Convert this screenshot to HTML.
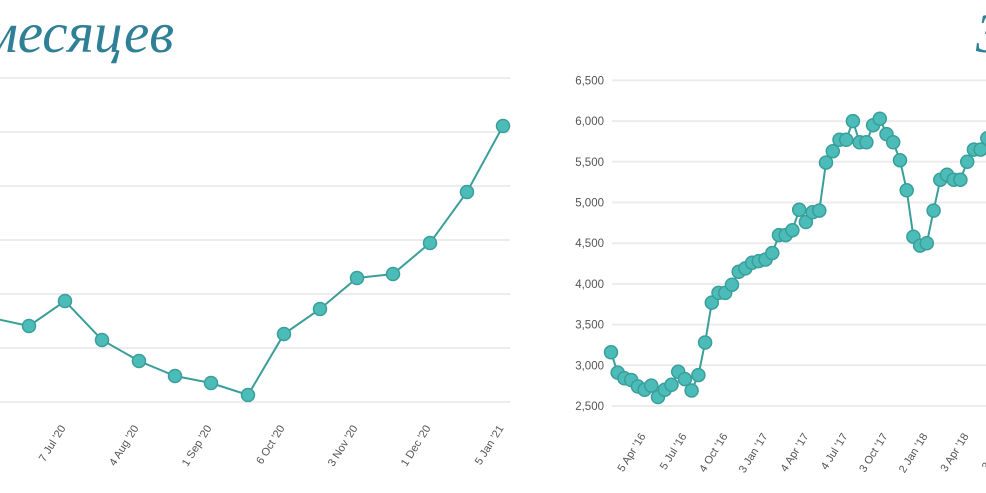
<!DOCTYPE html>
<html><head><meta charset="utf-8"><style>
html,body{margin:0;padding:0;background:#fff;width:986px;height:493px;overflow:hidden}
svg{display:block}
</style></head><body>
<svg id="s" width="986" height="493" xmlns="http://www.w3.org/2000/svg" font-family="Liberation Sans, sans-serif">
<text x="174" y="52" text-anchor="end" font-family="Liberation Serif, serif" font-style="italic" font-size="57" fill="#2f8096">месяцев</text>
<text x="976" y="52" font-family="Liberation Serif, serif" font-style="italic" font-size="56" fill="#2f8096">3</text>
<g id="g"></g>
</svg>
<script>
var g=document.getElementById('g'),h='';
[78,132,186,240,294,348,402].forEach(function(y){h+='<line x1="0" x2="510" y1="'+y+'" y2="'+y+'" stroke="#ececec" stroke-width="2"/>';});
var L=[[-8,318],[29,326],[65,301],[102,340],[139,361],[175,376],[211,383],[248,395],[284,334],[320,309],[357,278],[393,274],[430,243],[467,192],[503,126]];
h+='<polyline fill="none" stroke="#3a9e9a" stroke-width="2" points="'+L.map(function(p){return p.join(',')}).join(' ')+'"/>';
L.forEach(function(p){h+='<circle cx="'+p[0]+'" cy="'+p[1]+'" r="6.5" fill="#4cbcb8" stroke="#3a9e9a" stroke-width="1.5"/>';});
[["7 Jul '20",65],["4 Aug '20",138],["1 Sep '20",211],["6 Oct '20",284],["3 Nov '20",357],["1 Dec '20",430],["5 Jan '21",503]].forEach(function(t){
h+='<text transform="translate('+(t[1]+1)+',428) rotate(-58)" text-anchor="end" font-size="11" fill="#555">'+t[0]+'</text>';});
var ys=[6500,6000,5500,5000,4500,4000,3500,3000,2500];
function Y(v){return 406-(v-2500)*0.0814;}
ys.forEach(function(v){var y=Y(v);h+='<line x1="612" x2="986" y1="'+y+'" y2="'+y+'" stroke="#ececec" stroke-width="2"/>';
h+='<text x="604" y="'+(y+4)+'" text-anchor="end" font-size="11.5" fill="#555">'+v.toLocaleString('en-US')+'</text>';});
var V=[3160,2910,2840,2820,2740,2700,2750,2610,2700,2760,2920,2830,2690,2880,3280,3770,3890,3890,3990,4150,4190,4260,4280,4300,4380,4600,4600,4660,4910,4760,4880,4900,5490,5630,5770,5770,6000,5740,5740,5950,6030,5840,5740,5520,5150,4580,4470,4500,4900,5280,5340,5280,5280,5500,5650,5650,5790];
var P=V.map(function(v,i){return [611+i*6.72,Y(v)];});
h+='<polyline fill="none" stroke="#3a9e9a" stroke-width="2" points="'+P.map(function(p){return p[0].toFixed(1)+','+p[1].toFixed(1)}).join(' ')+'"/>';
P.forEach(function(p){h+='<circle cx="'+p[0].toFixed(1)+'" cy="'+p[1].toFixed(1)+'" r="6.5" fill="#4cbcb8" stroke="#3a9e9a" stroke-width="1.5"/>';});
[["5 Apr '16",646],["5 Jul '16",687],["4 Oct '16",728],["3 Jan '17",768],["4 Apr '17",809],["4 Jul '17",848],["3 Oct '17",888],["2 Jan '18",928],["3 Apr '18",969],["3 Jul '18",1009]].forEach(function(t){
h+='<text transform="translate('+t[1]+',436) rotate(-58)" text-anchor="end" font-size="11" fill="#555">'+t[0]+'</text>';});
g.innerHTML=h;
</script>
</body></html>
